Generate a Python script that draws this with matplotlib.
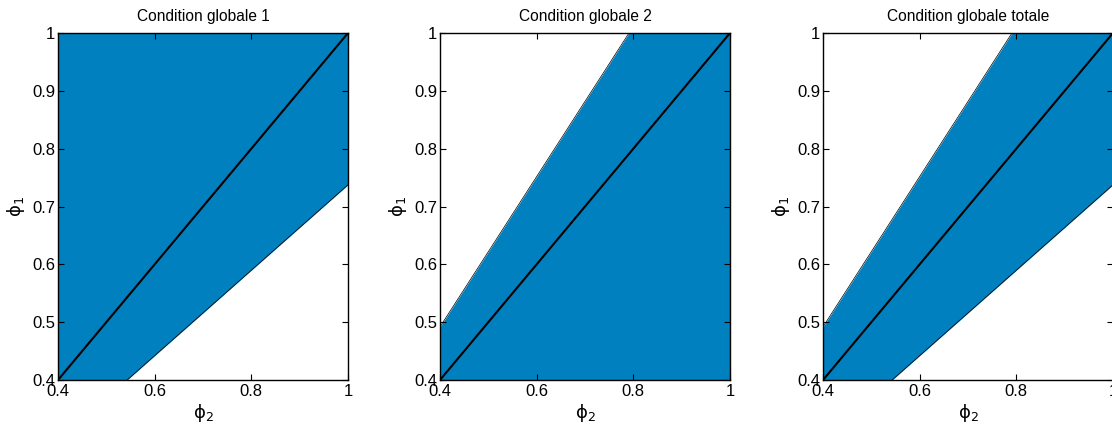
import matplotlib
matplotlib.use("Agg")
import matplotlib.pyplot as plt
import numpy as np
from matplotlib.ticker import FuncFormatter

plt.rcParams["font.family"] = ["Liberation Sans", "DejaVu Sans"]
plt.rcParams["mathtext.fontset"] = "dejavusans"

# Axis range and ticks
lim = [0.4, 1.0]
xticks = [0.4, 0.6, 0.8, 1.0]
yticks = [0.4, 0.5, 0.6, 0.7, 0.8, 0.9, 1.0]

# Diagonal phi1 = phi2
diag_phi2 = [0.4, 1.0]
diag_phi1 = [0.4, 1.0]

# Boundary of condition 1 (lower limit of phi1)
low_phi2 = [0.4, 0.543, 1.0]
low_phi1 = [0.4, 0.4, 0.7375]

# Boundary of condition 2 (upper limit of phi1)
up_phi2 = [0.4, 0.791, 1.0]
up_phi1 = [0.492, 1.0, 1.0]

titles = ["Condition globale 1", "Condition globale 2", "Condition globale totale"]

BLUE = "#0080BF"

fig = plt.figure(figsize=(11.12, 4.25), dpi=100)
W, H = 1112.0, 425.0
lefts = [58, 440, 823]
axw, top, bottom = 290, 33, 380


def fmt(v, pos):
    return "%g" % v


for i, left in enumerate(lefts):
    ax = fig.add_axes([left / W, (H - bottom) / H, axw / W, (bottom - top) / H])
    if i == 0:
        ax.fill_between(low_phi2, low_phi1, [1.0] * len(low_phi2), color=BLUE, lw=0)
        ax.plot(low_phi2[1:], low_phi1[1:], color="black", lw=0.5)
    elif i == 1:
        ax.fill_between(up_phi2, [0.4] * len(up_phi2), up_phi1, color=BLUE, lw=0)
        ax.plot(up_phi2[:2], up_phi1[:2], color="black", lw=0.5)
    else:
        # intersection of both regions
        xs = sorted(set(low_phi2 + up_phi2))
        lo = np.interp(xs, low_phi2, low_phi1)
        hi = np.interp(xs, up_phi2, up_phi1)
        ax.fill_between(xs, lo, hi, color=BLUE, lw=0)
        ax.plot(low_phi2[1:], low_phi1[1:], color="black", lw=0.5)
        ax.plot(up_phi2[:2], up_phi1[:2], color="black", lw=0.5)
    ax.plot(diag_phi2, diag_phi1, color="black", lw=1.5)

    ax.set_xlim(lim)
    ax.set_ylim(lim)
    ax.set_xticks(xticks)
    ax.set_yticks(yticks)
    ax.xaxis.set_major_formatter(FuncFormatter(fmt))
    ax.yaxis.set_major_formatter(FuncFormatter(fmt))
    ax.tick_params(direction="in", length=4, width=0.8, top=True, right=True,
                   labelsize=12, colors="black")
    ax.tick_params(axis="x", pad=3)
    ax.tick_params(axis="y", pad=2)
    for s in ax.spines.values():
        s.set_linewidth(1.0)
    ax.set_title(titles[i], fontsize=11.2, pad=9)
    ax.set_xlabel(r"$\mathrm{\phi}_2$", fontsize=13, labelpad=2)
    ax.set_ylabel(r"$\mathrm{\phi}_1$", fontsize=13, labelpad=4)

fig.savefig("out.png", dpi=100)
